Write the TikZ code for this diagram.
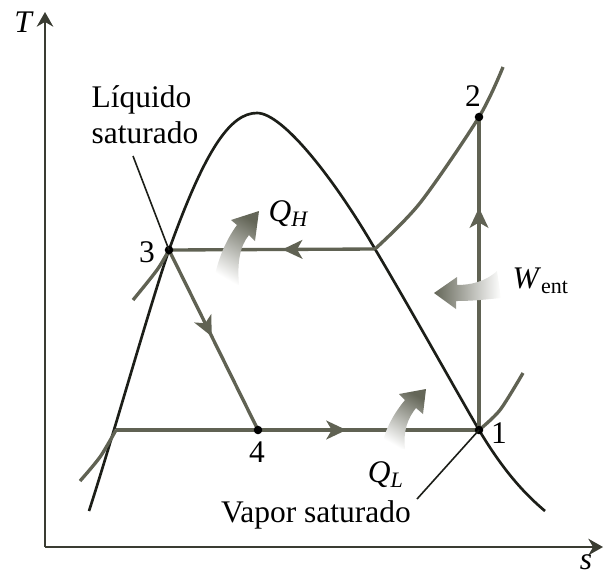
\documentclass[tikz,border=0pt]{standalone}
\usepackage{fontspec}
\setmainfont{Liberation Serif}
\usetikzlibrary{arrows.meta,decorations.markings}
\definecolor{procgray}{RGB}{96,98,83}
\definecolor{domeblack}{RGB}{28,30,24}
\definecolor{axisgray}{RGB}{58,60,50}
\definecolor{heatgray}{RGB}{100,102,88}

\begin{document}
\begin{tikzpicture}[
    x=0.375pt, y=-0.375pt,
    every node/.style={font=\fontsize{11.8}{13.5}\selectfont, inner sep=0pt},
    proc/.style={procgray, line width=1.25pt},
    dome/.style={domeblack, line width=1pt},
    leader/.style={domeblack, line width=0.6pt},
    axis/.style={axisgray, line width=0.8pt, -{Stealth[length=5.5pt,width=6.2pt]}},
    midarrow/.style={postaction={decorate, decoration={markings,
        mark=at position #1 with {\arrow{Stealth[length=7.5pt,width=7pt,inset=2pt]}}}}},
    statept/.style={circle, fill=black, minimum size=3.2pt},
    heatup/.style={top color=heatgray, bottom color=white, shading angle=-30},
    heatleft/.style={left color=heatgray, right color=white}
]
\useasboundingbox (0,0) rectangle (604,572);

% axes
\coordinate (origin) at (45,547);
\coordinate (taxis) at (45,12);
\coordinate (saxis) at (603,547);
\draw[axis] (origin) -- (taxis);
\draw[axis] (origin) -- (saxis);
\node (tlabel) at (24,22) {\textit{T}};
\node (slabel) at (586,562) {\textit{s}};

% states
\coordinate (s1) at (479,430);
\coordinate (s2) at (479,117);
\coordinate (s3) at (169,250);
\coordinate (s4) at (258,430);
\coordinate (gsat) at (375,249);
\coordinate (fsat) at (116,430);

% saturation dome
\draw[dome] (89,511) .. controls (112,440) and (150,305) .. (s3)
    .. controls (205,150) and (230,113) .. (257,113)
    .. controls (283,113) and (335,180) .. (gsat)
    .. controls (410,308) and (450,380) .. (s1)
    .. controls (500,465) and (520,490) .. (545,511);

% isobars
\draw[proc] plot[smooth] coordinates {(375,249) (420,203) (479,117) (503,67)};
\draw[proc] plot[smooth] coordinates {(133,300) (157,270) (169,250)};
\draw[proc] plot[smooth] coordinates {(80,481) (100,457) (116,430)};
\draw[proc] plot[smooth] coordinates {(479,430) (500,410) (523,373)};

% cycle
\draw[proc, midarrow=0.71] (s1) -- (s2);
\draw[proc, midarrow=0.45] (gsat) -- (s3);
\draw[proc, midarrow=0.48] (s3) -- (s4);
\draw[proc, midarrow=0.40] (s4) -- (s1);
\draw[proc] (fsat) -- (s4);

\node[statept] (dot1) at (s1) {};
\node[statept] (dot2) at (s2) {};
\node[statept] (dot3) at (s3) {};
\node[statept] (dot4) at (s4) {};

\node (n1) at (499,433) {1};
\node (n2) at (473,96) {2};
\node (n3) at (147,252) {3};
\node (n4) at (257,452) {4};

% leaders
\node (liq) [align=left] at (145,115) {Líquido\\saturado};
\node (vap) at (316,515) {Vapor saturado};
\coordinate (liqtip) at (133,156);
\coordinate (vaptip) at (417,499);
\draw[leader] (liqtip) -- (s3);
\draw[leader] (vaptip) -- (s1);

% heat and work
\shade[heatup] (213,285) .. controls (217,260) and (226,240) .. (237,225)
    -- (231,220) -- (259,211) -- (255,241) -- (249,235)
    .. controls (240,246) and (237,262) .. (239,285) -- cycle;
\shade[heatup] (381,449) .. controls (385,428) and (395,412) .. (405,400)
    -- (399,394) -- (426,389) -- (423,414) -- (416,408)
    .. controls (408,418) and (403,430) .. (405,449) -- cycle;
\shade[heatleft] (497,271) .. controls (485,282) and (470,285) .. (457,285)
    -- (457,277) -- (434,293) -- (456,309) -- (456,301)
    .. controls (475,301) and (490,299) .. (501,298) -- cycle;

\node (qh) at (289,214) {\textit{Q}\textsubscript{\textit{H}}};
\node (ql) at (386,475) {\textit{Q}\textsubscript{\textit{L}}};
\node (went) at (541,281) {\textit{W}\textsubscript{ent}};
\end{tikzpicture}
\end{document}
